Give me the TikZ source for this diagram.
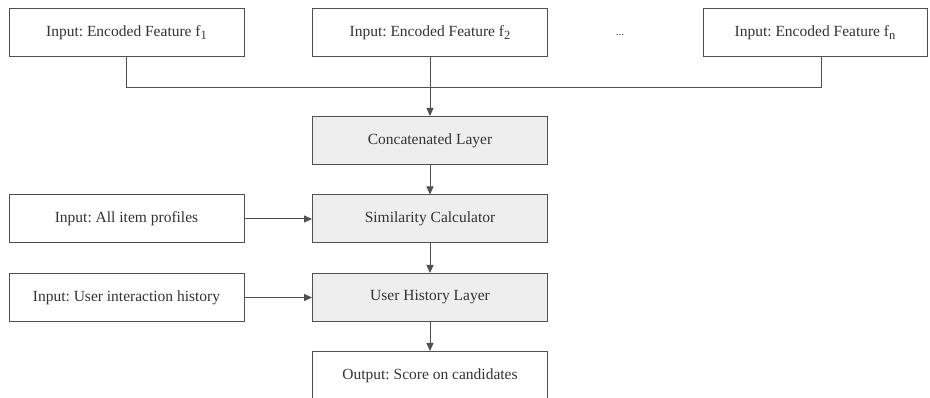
\documentclass[tikz,border=0pt]{standalone}
\usepackage{fontspec}
\setmainfont{Liberation Serif}
\frenchspacing
\usetikzlibrary{arrows.meta,calc}
\definecolor{linegray}{HTML}{505050}
\definecolor{fillgray}{HTML}{EEEEEE}
\definecolor{textgray}{HTML}{333333}
\newcommand{\fsub}[1]{\raisebox{-0.4ex}{\fontsize{12.5}{12.5}\selectfont #1}}
\tikzset{
  box/.style={draw=linegray, line width=1pt, fill=white, minimum width=235pt, minimum height=48pt,
    inner sep=0pt, text=textgray, font=\fontsize{15.5}{18}\selectfont},
  layer/.style={box, fill=fillgray},
  conn/.style={draw=linegray, line width=1pt},
  arr/.style={conn, -{Triangle[length=8pt,width=7pt]}}
}
\begin{document}
\begin{tikzpicture}[x=1pt,y=-1pt]
\useasboundingbox (0,0) rectangle (930,398);
\fill[white] (0,0) rectangle (930,398);
\node[box] (b1) at (126.5,33) {Input: Encoded Feature f\fsub{1}};
\node[box] (b2) at (430,33) {Input: Encoded Feature f\fsub{2}};
\node[text=textgray, font=\fontsize{11}{12}\selectfont] (dots) at (620,35) {...};
\node[box, minimum width=224pt] (bn) at (815,33) {Input: Encoded Feature f\fsub{n}};
\node[layer] (concat) at (430,140.5) {Concatenated Layer};
\node[layer] (sim) at (430,219) {Similarity Calculator};
\node[box] (items) at (126.5,219) {Input: All item profiles};
\node[layer] (hist) at (430,297.5) {User History Layer};
\node[box] (inter) at (126.5,297.5) {Input: User interaction history};
\node[box] (out) at (430,375.5) {Output: Score on candidates};
\draw[conn] (b1.south) -- ++(0,30) -| ([xshift=6pt]bn.south);
\draw[arr] (b2.south) -- (concat.north);
\draw[arr] (concat.south) -- (sim.north);
\draw[arr] (items.east) -- (sim.west);
\draw[arr] (sim.south) -- (hist.north);
\draw[arr] (inter.east) -- (hist.west);
\draw[arr] (hist.south) -- (out.north);
\end{tikzpicture}
\end{document}
